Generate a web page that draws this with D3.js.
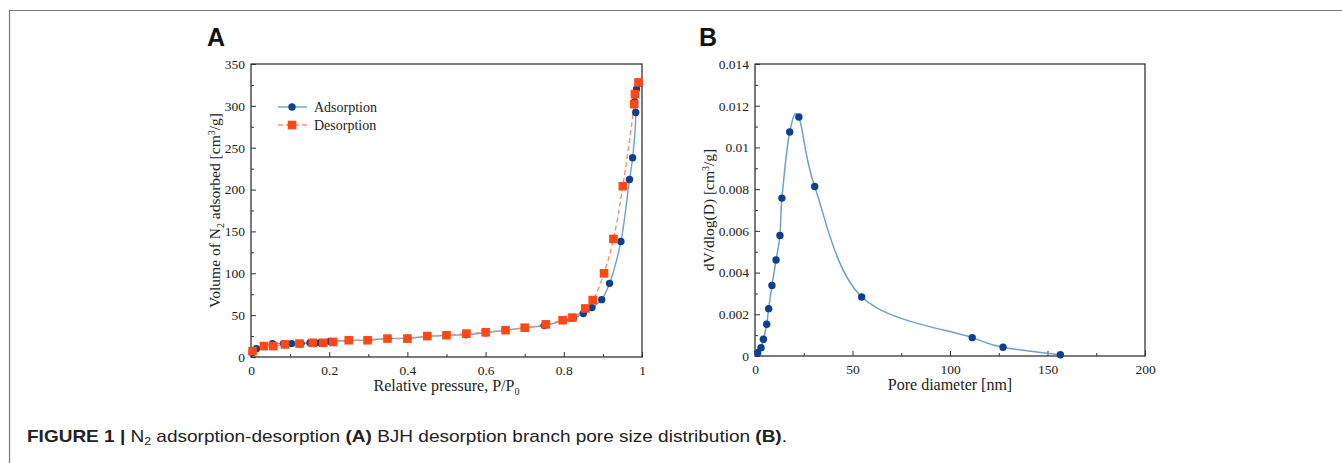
<!DOCTYPE html>
<html>
<head>
<meta charset="utf-8">
<script src="https://cdn.jsdelivr.net/npm/d3@7"></script>
<style>
  body { margin: 0; background: #fff; }
  svg text { fill: #222; }
  .tick text { font-family: "Liberation Serif", "Times New Roman", serif; font-size: 13.5px; fill: #222; }
  .domain { display: none; }
  .tick line { stroke: #333; stroke-width: 1; }
</style>
</head>
<body>
<svg id="fig" width="1342" height="463"></svg>
<script>
// panel A: N2 isotherm
const adsP = [0.003, 0.014, 0.055, 0.083, 0.104, 0.128, 0.151, 0.176, 0.202, 0.30, 0.35, 0.40, 0.45, 0.50, 0.55, 0.60, 0.65, 0.70, 0.75, 0.80, 0.825, 0.85, 0.872, 0.897, 0.917, 0.946, 0.968, 0.976, 0.984, 0.981, 0.986, 0.993]
const adsV = [5, 10, 16, 16, 16, 16, 17, 17, 18.5, 20.5, 22, 22.5, 24.5, 26, 26.5, 29, 32, 35, 37.5, 43.5, 46.5, 52, 59, 68.5, 88, 138, 212, 238, 292, 305, 320, 327]
const desP = [0.004, 0.033, 0.057, 0.087, 0.124, 0.158, 0.185, 0.21, 0.25, 0.298, 0.349, 0.40, 0.451, 0.50, 0.551, 0.60, 0.651, 0.70, 0.754, 0.797, 0.822, 0.855, 0.874, 0.903, 0.927, 0.951, 0.980, 0.982, 0.991]
const desV = [7, 13, 13, 15, 16, 17, 17, 18, 20, 20, 22, 22, 25, 26, 28, 29.5, 32, 35, 39, 44, 47, 58, 68, 100, 141, 204, 302, 314, 328]
const xTicksA = [0, 0.2, 0.4, 0.6, 0.8, 1]
const yTicksA = [0, 50, 100, 150, 200, 250, 300, 350]

// panel B: BJH pore size distribution
const poreD = [1.4, 3.1, 4.3, 6.0, 7.0, 8.7, 10.8, 12.8, 13.8, 17.8, 22.5, 30.6, 54.7, 111.4, 127.2, 156.6]
const poreV = [0.00016, 0.0004, 0.0008, 0.00152, 0.00227, 0.00338, 0.0046, 0.00578, 0.00757, 0.01074, 0.01146, 0.00813, 0.00283, 0.00088, 0.00042, 0.00006]
const xTicksB = [0, 50, 100, 150, 200]
const yTicksB = [0, 0.002, 0.004, 0.006, 0.008, 0.01, 0.012, 0.014]

const blueDot = "#0b4190"
const blueLine = "#6d9fd2"
const redSq = "#ff4814"
const redLine = "#f6916f"
const serif = '"Liberation Serif", "Times New Roman", serif'

const svg = d3.select("#fig")

// outer frame of the figure box
svg.append("path")
  .attr("d", "M9.5,463 V10.5 H1342")
  .attr("fill", "none")
  .attr("stroke", "#777")
  .attr("stroke-width", 1.2)

function panel(opt) {
  const g = svg.append("g")
  const x = d3.scaleLinear().domain(opt.xdom).range([opt.left, opt.right])
  const y = d3.scaleLinear().domain(opt.ydom).range([opt.bottom, opt.top])

  // minor ticks
  g.append("g")
    .attr("transform", "translate(0," + opt.bottom + ")")
    .call(d3.axisBottom(x).tickValues(opt.xminor).tickSize(-3).tickFormat(""))
  g.append("g")
    .attr("transform", "translate(" + opt.left + ",0)")
    .call(d3.axisLeft(y).tickValues(opt.yminor).tickSize(-3).tickFormat(""))

  // major ticks
  g.append("g")
    .attr("transform", "translate(0," + opt.bottom + ")")
    .call(d3.axisBottom(x).tickValues(opt.xticks).tickSize(-5).tickPadding(8).tickFormat(opt.xfmt))
  g.append("g")
    .attr("transform", "translate(" + opt.left + ",0)")
    .call(d3.axisLeft(y).tickValues(opt.yticks).tickSize(-5).tickPadding(6).tickFormat(opt.yfmt))

  g.append("rect")
    .attr("x", opt.left).attr("y", opt.top)
    .attr("width", opt.right - opt.left).attr("height", opt.bottom - opt.top)
    .attr("fill", "none").attr("stroke", "#333").attr("stroke-width", 1.3)

  // panel letter
  g.append("text")
    .attr("x", opt.letterX).attr("y", 46)
    .style("font-family", '"Liberation Sans", Arial, sans-serif')
    .style("font-weight", "bold").style("font-size", "25px")
    .style("fill", "#111")
    .text(opt.letter)

  // x title
  const xt = g.append("text")
    .attr("x", (opt.left + opt.right) / 2).attr("y", opt.bottom + 34)
    .attr("text-anchor", "middle")
    .style("font-family", serif).style("font-size", "16px")
  opt.xtitle(xt)

  // y title
  const yt = g.append("text")
    .attr("transform", "translate(" + opt.ytitleX + "," + (opt.top + opt.bottom) / 2 + ") rotate(-90)")
    .attr("text-anchor", "middle")
    .style("font-family", serif).style("font-size", "15.5px")
  opt.ytitle(yt)

  return { g: g, x: x, y: y }
}

// ---------- panel A ----------
const A = panel({
  left: 251, right: 642, top: 64, bottom: 357,
  xdom: [0, 1], ydom: [0, 350],
  xticks: xTicksA, yticks: yTicksA,
  xminor: [0.1, 0.3, 0.5, 0.7, 0.9], yminor: [25, 75, 125, 175, 225, 275, 325],
  xfmt: d => d3.format("~g")(d), yfmt: d => d,
  letter: "A", letterX: 207, ytitleX: 220,
  xtitle: t => {
    t.append("tspan").text("Relative pressure, P/P")
    t.append("tspan").attr("dy", 4).style("font-size", "10px").text("0")
  },
  ytitle: t => {
    t.append("tspan").text("Volume of N")
    t.append("tspan").attr("dy", 4).style("font-size", "10px").text("2")
    t.append("tspan").attr("dy", -4).text(" adsorbed [cm")
    t.append("tspan").attr("dy", -5).style("font-size", "10px").text("3")
    t.append("tspan").attr("dy", 5).text("/g]")
  }
})

const adsData = d3.zip(adsP, adsV)
const desData = d3.zip(desP, desV)
const lineA = d3.line().x(d => A.x(d[0])).y(d => A.y(d[1])).curve(d3.curveCatmullRom.alpha(0.5))

A.g.append("path").datum(adsData)
  .attr("d", lineA).attr("fill", "none").attr("stroke", blueLine).attr("stroke-width", 1.4)
A.g.append("path").datum(desData)
  .attr("d", lineA).attr("fill", "none").attr("stroke", redLine).attr("stroke-width", 1.4)
  .attr("stroke-dasharray", "5,3")

A.g.append("g").selectAll("circle")
  .data(adsData).enter().append("circle")
  .attr("cx", d => A.x(d[0])).attr("cy", d => A.y(d[1]))
  .attr("r", 3.7).attr("fill", blueDot)
A.g.append("g").selectAll("rect")
  .data(desData).enter().append("rect")
  .attr("x", d => A.x(d[0]) - 4.3).attr("y", d => A.y(d[1]) - 4.3)
  .attr("width", 8.6).attr("height", 8.6).attr("fill", redSq)

// legend
const leg = A.g.append("g")
leg.append("line").attr("x1", 278).attr("x2", 307).attr("y1", 107).attr("y2", 107)
  .attr("stroke", blueLine).attr("stroke-width", 1.4)
leg.append("circle").attr("cx", 292).attr("cy", 107).attr("r", 3.7).attr("fill", blueDot)
leg.append("text").attr("x", 314).attr("y", 112)
  .style("font-family", serif).style("font-size", "14px").text("Adsorption")
leg.append("line").attr("x1", 278).attr("x2", 307).attr("y1", 125).attr("y2", 125)
  .attr("stroke", redLine).attr("stroke-width", 1.4).attr("stroke-dasharray", "5,3")
leg.append("rect").attr("x", 287.7).attr("y", 120.7).attr("width", 8.6).attr("height", 8.6).attr("fill", redSq)
leg.append("text").attr("x", 314).attr("y", 130)
  .style("font-family", serif).style("font-size", "14px").text("Desorption")

// ---------- panel B ----------
const B = panel({
  left: 755, right: 1145, top: 64, bottom: 356,
  xdom: [0, 200], ydom: [0, 0.014],
  xticks: xTicksB, yticks: yTicksB,
  xminor: [25, 75, 125, 175], yminor: [0.001, 0.003, 0.005, 0.007, 0.009, 0.011, 0.013],
  xfmt: d => d, yfmt: d => d3.format("~g")(d),
  letter: "B", letterX: 699, ytitleX: 714,
  xtitle: t => { t.text("Pore diameter [nm]") },
  ytitle: t => {
    t.append("tspan").text("dV/dlog(D) [cm")
    t.append("tspan").attr("dy", -5).style("font-size", "10px").text("3")
    t.append("tspan").attr("dy", 5).text("/g]")
  }
})

const poreData = d3.zip(poreD, poreV)
// uniform catmull-rom lets the curve overshoot a bit above the top point, as in the figure
const lineB = d3.line().x(d => B.x(d[0])).y(d => B.y(d[1])).curve(d3.curveCatmullRom.alpha(0))
B.g.append("path").datum(poreData)
  .attr("d", lineB).attr("fill", "none").attr("stroke", blueLine).attr("stroke-width", 1.5)
B.g.append("g").selectAll("circle")
  .data(poreData).enter().append("circle")
  .attr("cx", d => B.x(d[0])).attr("cy", d => B.y(d[1]))
  .attr("r", 3.7).attr("fill", blueDot)

// ---------- caption ----------
const cap = svg.append("text")
  .attr("x", 27).attr("y", 442)
  .style("font-family", '"Liberation Sans Narrow", "Arial Narrow", "Liberation Sans", sans-serif')
  .style("font-size", "17px").style("fill", "#222")
cap.append("tspan").style("font-weight", "bold").text("FIGURE 1 | ")
cap.append("tspan").text("N")
cap.append("tspan").attr("dy", 3).style("font-size", "11px").text("2")
cap.append("tspan").attr("dy", -3).text(" adsorption-desorption ")
cap.append("tspan").style("font-weight", "bold").text("(A)")
cap.append("tspan").text(" BJH desorption branch pore size distribution ")
cap.append("tspan").style("font-weight", "bold").text("(B)")
cap.append("tspan").text(".")
// the caption face in the figure is a condensed sans; stretch to the same run
cap.attr("textLength", 760).attr("lengthAdjust", "spacingAndGlyphs")
</script>
</body>
</html>
